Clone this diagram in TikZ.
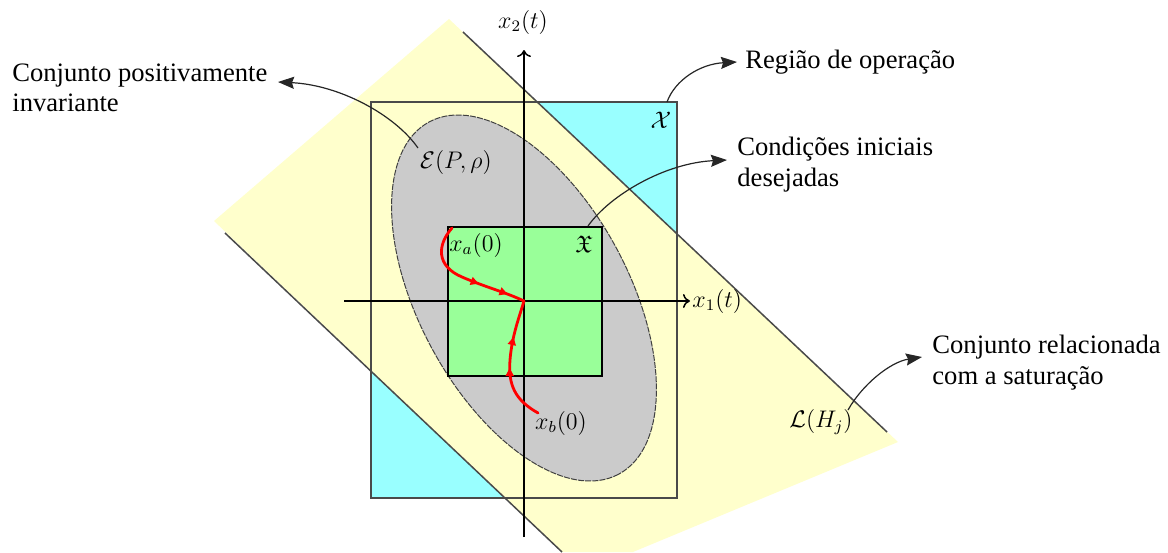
\documentclass[tikz,border=0pt]{standalone}
\usepackage{amssymb}
\usepackage{fontspec}
\setmainfont{Liberation Serif}
\usetikzlibrary{arrows.meta,decorations.markings}
\definecolor{yel}{HTML}{FFFFCC}
\definecolor{cya}{HTML}{99FFFF}
\definecolor{ellc}{HTML}{CBCBCB}
\definecolor{grn}{HTML}{99FF99}
\definecolor{edgec}{HTML}{4A4A4A}
\tikzset{
  lbl/.style={font=\fontsize{13.3}{15.2}\selectfont, inner sep=0pt, align=left, text=black},
  mlbl/.style={font=\fontsize{12}{14}\selectfont, inner sep=0pt, text=black},
  note/.style={draw=black!85, line width=0.6pt, -{Stealth[length=8pt,width=6pt,inset=1pt]}},
  axis/.style={draw=black, line width=0.75pt, -{To[length=3.5pt,width=7pt]}},
  trajA/.style={draw=red, line width=1.4pt, line cap=round, postaction={decorate},
    decoration={markings,
      mark=at position 0.62 with {\arrow{Triangle[length=4pt,width=4pt]}},
      mark=at position 0.86 with {\arrow{Triangle[length=4pt,width=4pt]}}}},
  trajB/.style={draw=red, line width=1.4pt, line cap=round, postaction={decorate},
    decoration={markings,
      mark=at position 0.45 with {\arrow{Triangle[length=4pt,width=4pt]}},
      mark=at position 0.7 with {\arrow{Triangle[length=4pt,width=4pt]}}}}
}
\begin{document}
\begin{tikzpicture}[x=0.5pt,y=-0.5pt]
\useasboundingbox (0,0) rectangle (1168,552);
% operation region fill
\fill[cya] (371,102) rectangle (677,498);
% saturation set
\fill[yel] (449,19) -- (898,442) -- (633,552) -- (562,552) -- (214,221) -- cycle;
\draw[edgec, line width=0.75pt] (463,32) -- (887,432);
\draw[edgec, line width=0.75pt] (225,233) -- (562,552);
% operation region border
\draw[edgec, line width=1pt] (371,102) rectangle (677,498);
% ellipse
\begin{scope}[shift={(524,298)}, rotate=-61.7]
  \draw[fill=ellc, draw=black!75, line width=0.5pt, dash pattern=on 3pt off 0.6pt] (0,0) ellipse [x radius=200, y radius=105];
\end{scope}
% desired initial conditions
\draw[fill=grn, draw=black, line width=0.75pt] (448,227) rectangle (602,376);
% axes
\coordinate (o) at (524,301);
\coordinate (ybot) at (524,537);
\coordinate (ytop) at (524,50);
\coordinate (xl) at (344,301);
\coordinate (xr) at (690,301);
\draw[axis] (ybot) -- (ytop);
\draw[axis] (xl) -- (xr);
% annotation arrows
\coordinate (aEs) at (418,148); \coordinate (aEt) at (278,82);
\draw[note] (aEs) .. controls (395,115) and (340,85) .. (aEt);
\coordinate (aXs) at (667,102); \coordinate (aXt) at (737,62);
\draw[note] (aXs) .. controls (675,80) and (700,64) .. (aXt);
\coordinate (aCs) at (588,226); \coordinate (aCt) at (727,160);
\draw[note] (aCs) .. controls (610,195) and (665,163) .. (aCt);
\coordinate (aLs) at (848,410); \coordinate (aLt) at (922,357);
\draw[note] (aLs) .. controls (862,385) and (890,362) .. (aLt);
% trajectories
\coordinate (xa0) at (452,228);
\coordinate (xb0) at (538,413);
\draw[trajA] (xa0) .. controls (437,245) and (436,266) .. (462,277) .. controls (485,287) and (505,292) .. (o);
\draw[trajB] (xb0) .. controls (515,400) and (508,385) .. (510,360) .. controls (512,335) and (520,315) .. (o);
% math labels
\node[mlbl] (lx2) at (523,22) {$x_2(t)$};
\node[mlbl, anchor=west] (lx1) at (692,301) {$x_1(t)$};
\node[mlbl] (lX) at (661,120) {$\mathcal{X}$};
\node[mlbl] (lE) at (456,162) {$\mathcal{E}(P,\rho)$};
\node[mlbl] (lfX) at (584,244) {$\mathfrak{X}$};
\node[mlbl] (lxa) at (476,245) {$x_a(0)$};
\node[mlbl] (lxb) at (561,423) {$x_b(0)$};
\node[mlbl] (lL) at (821,422) {$\mathcal{L}(H_j)$};
% text labels
\node[lbl, anchor=north west] (tpos) at (12,63) {Conjunto positivamente\\invariante};
\node[lbl, anchor=base west] (treg) at (745,68) {Região de operação};
\node[lbl, anchor=north west] (tcond) at (737,137) {Condições iniciais\\desejadas};
\node[lbl, anchor=north west] (tsat) at (932,335) {Conjunto relacionada\\com a saturação};
\end{tikzpicture}
\end{document}
